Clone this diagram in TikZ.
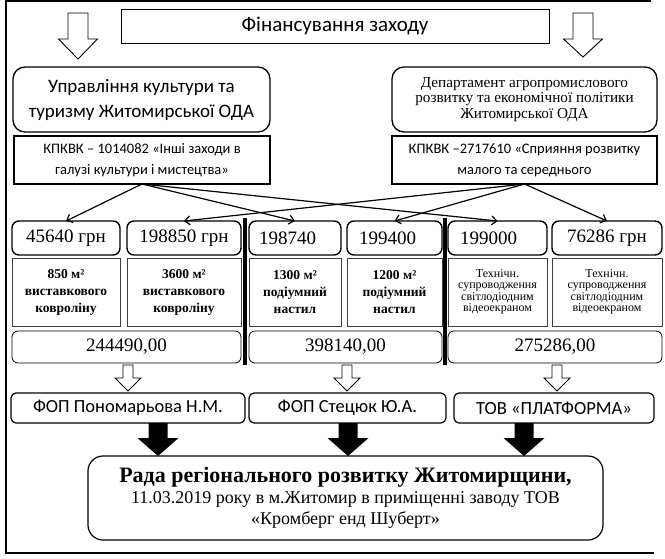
\documentclass[tikz,border=0pt]{standalone}
\usepackage{fontspec}
\setmainfont{Liberation Serif}
\newfontfamily\sansf{Carlito}
\usetikzlibrary{arrows.meta,fit}
\newcommand\hollowarr[6]{% cx, top, headstart, tip, half shaft, half head
  \draw[line width=0.9pt, fill=white, line join=miter]
    (#1-#5,#2) -- (#1+#5,#2) -- (#1+#5,#3) -- (#1+#6,#3) -- (#1,#4)
    -- (#1-#6,#3) -- (#1-#5,#3) -- cycle;}
\newcommand\solidarr[1]{% cx
  \fill[black] (#1-9.5,423) -- (#1+9.5,423) -- (#1+9.5,438) -- (#1+20.5,438)
    -- (#1,456) -- (#1-20.5,438) -- (#1-9.5,438) -- cycle;}
\begin{document}
\begin{tikzpicture}[x=1pt,y=-1pt,
  every node/.style={inner sep=0pt, outer sep=0pt, align=center},
  titlebox/.style={draw, line width=0.8pt},
  topbox/.style={draw, rounded corners=12pt, line width=1.3pt},
  codebox/.style={draw, line width=1.5pt},
  sumbox/.style={draw, rounded corners=7pt, line width=1.4pt},
  descbox/.style={draw, line width=0.8pt, draw=black!75},
  totbox/.style={draw, rounded corners=6pt, line width=0.8pt},
  fopbox/.style={draw, rounded corners=5pt, line width=1.2pt},
  finbox/.style={draw, rounded corners=15pt, line width=1.2pt},
  link/.style={line width=1.2pt, -{Straight Barb[length=5pt,width=9pt]}},
  sumtxt/.style={font=\fontsize{19}{22}\selectfont},
  desctxt/.style={font=\bfseries\fontsize{13.5}{17}\selectfont},
  smalltxt/.style={font=\fontsize{12}{11.5}\selectfont},
  codetxt/.style={font=\sansf\fontsize{14.5}{21}\selectfont},
  foptxt/.style={font=\sansf\fontsize{18.5}{20}\selectfont}]
\useasboundingbox (0,0) rectangle (665,558);
% frame
\draw[line width=1.2pt] (651,1) -- (6,1) -- (6,553) -- (654,553);

% title
\node[titlebox, fit={(121,9)(549,43)}] (title) {};
\node[font=\sansf\fontsize{21}{24}\selectfont] at (title.center) {Фінансування заходу};
\hollowarr{78}{13}{39}{59}{10}{19.5}
\hollowarr{583}{13}{39}{57}{10}{19.5}

% top boxes
\node[topbox, fit={(13,67)(270,132)}] (u1) {};
\node[font=\sansf\fontsize{19}{25}\selectfont] at (u1.center) {Управління культури та\\туризму Житомирської ОДА};
\node[topbox, fit={(392,67)(657,132)}] (u2) {};
\node[font=\fontsize{15.2}{15.5}\selectfont] at (u2.center) {Департамент агропромислового\\розвитку та економічної політики\\Житомирської ОДА};

% code boxes
\node[codebox, fit={(14,136)(270,184)}] (k1) {};
\node[codetxt] at (k1.center) {КПКВК – 1014082 «Інші заходи в\\галузі культури і мистецтва»};
\node[codebox, fit={(392,136)(657,184)}] (k2) {};
\node[codetxt] at (k2.center) {КПКВК –2717610 «Сприяння розвитку\\малого та середнього};

% amount boxes
\node[sumbox, fit={(12,221)(120,255)}] (a1) {};
\node[sumtxt] at (a1.center) {45640 грн};
\node[sumbox, fit={(127,221)(241,255)}] (a2) {};
\node[sumtxt] at (a2.center) {198850 грн};
\node[sumbox, fit={(249,221)(341,255)}] (a3) {};
\node[sumtxt, anchor=west] at ([xshift=10pt]a3.west) {198740};
\node[sumbox, fit={(347,221)(442,255)}] (a4) {};
\node[sumtxt, anchor=west] at ([xshift=12pt]a4.west) {199400};
\node[sumbox, fit={(448,221)(547,255)}] (a5) {};
\node[sumtxt, anchor=west] at ([xshift=12pt]a5.west) {199000};
\node[sumbox, fit={(552,221)(662,255)}] (a6) {};
\node[sumtxt] at (a6.center) {76286 грн};

% description boxes
\node[descbox, fit={(12,258)(120,326)}] (d1) {};
\node[desctxt] at (d1.center) {850 м²\\виставкового\\ковроліну};
\node[descbox, fit={(127,258)(241,326)}] (d2) {};
\node[desctxt] at (d2.center) {3600 м²\\виставкового\\ковроліну};
\node[descbox, fit={(249,258)(341,326)}] (d3) {};
\node[desctxt] at (d3.center) {1300 м²\\подіумний\\настил};
\node[descbox, fit={(347,258)(442,326)}] (d4) {};
\node[desctxt] at (d4.center) {1200 м²\\подіумний\\настил};
\node[descbox, fit={(448,258)(547,326)}] (d5) {};
\node[smalltxt] at (d5.center) {Технічн.\\супроводження\\світлодіодним\\відеоекраном};
\node[descbox, fit={(552,258)(662,326)}] (d6) {};
\node[smalltxt] at (d6.center) {Технічн.\\супроводження\\світлодіодним\\відеоекраном};

% totals
\node[totbox, fit={(12,331)(241,363)}] (t1) {};
\node[sumtxt] at (t1.center) {244490,00};
\node[totbox, fit={(249,331)(442,363)}] (t2) {};
\node[sumtxt] at (t2.center) {398140,00};
\node[totbox, fit={(448,331)(662,363)}] (t3) {};
\node[sumtxt] at (t3.center) {275286,00};

% separators
\draw[line width=4pt] (245,218) -- (245,365);
\draw[line width=4pt] (445,218) -- (445,365);

% links
\draw[link] (k1.south) -- (a1.north);
\draw[link] (k1.south) -- (a3.north);
\draw[link] (k1.south) -- (a5.north);
\draw[link] (k2.south) -- (a2.north);
\draw[link] (k2.south) -- (a4.north);
\draw[link] (k2.south) -- (a6.north);

% hollow arrows to firms
\hollowarr{128}{365}{378}{391}{5}{13}
\hollowarr{347}{365}{378}{391}{5}{13}
\hollowarr{557}{365}{378}{391}{5}{13}

% firms
\node[fopbox, fit={(11,393)(245,423)}] (f1) {};
\node[foptxt] at (f1.center) {ФОП Пономарьова Н.М.};
\node[fopbox, fit={(249,393)(446,423)}] (f2) {};
\node[foptxt] at (f2.center) {ФОП Стецюк Ю.А.};
\node[fopbox, fit={(454,393)(654,423)}] (f3) {};
\node[foptxt] at (f3.center) {ТОВ «ПЛАТФОРМА»};

% solid arrows
\solidarr{158}
\solidarr{348}
\solidarr{524}

% final box
\node[finbox, fit={(88,456)(603,540)}] (r) {};
\node[font=\fontsize{18}{21}\selectfont] at (r.center) {{\bfseries\fontsize{22}{22}\selectfont Рада регіонального розвитку Житомирщини,}\\
  11.03.2019 року в м.Житомир в приміщенні заводу ТОВ\\
  «Кромберг енд Шуберт»};
\end{tikzpicture}
\end{document}
